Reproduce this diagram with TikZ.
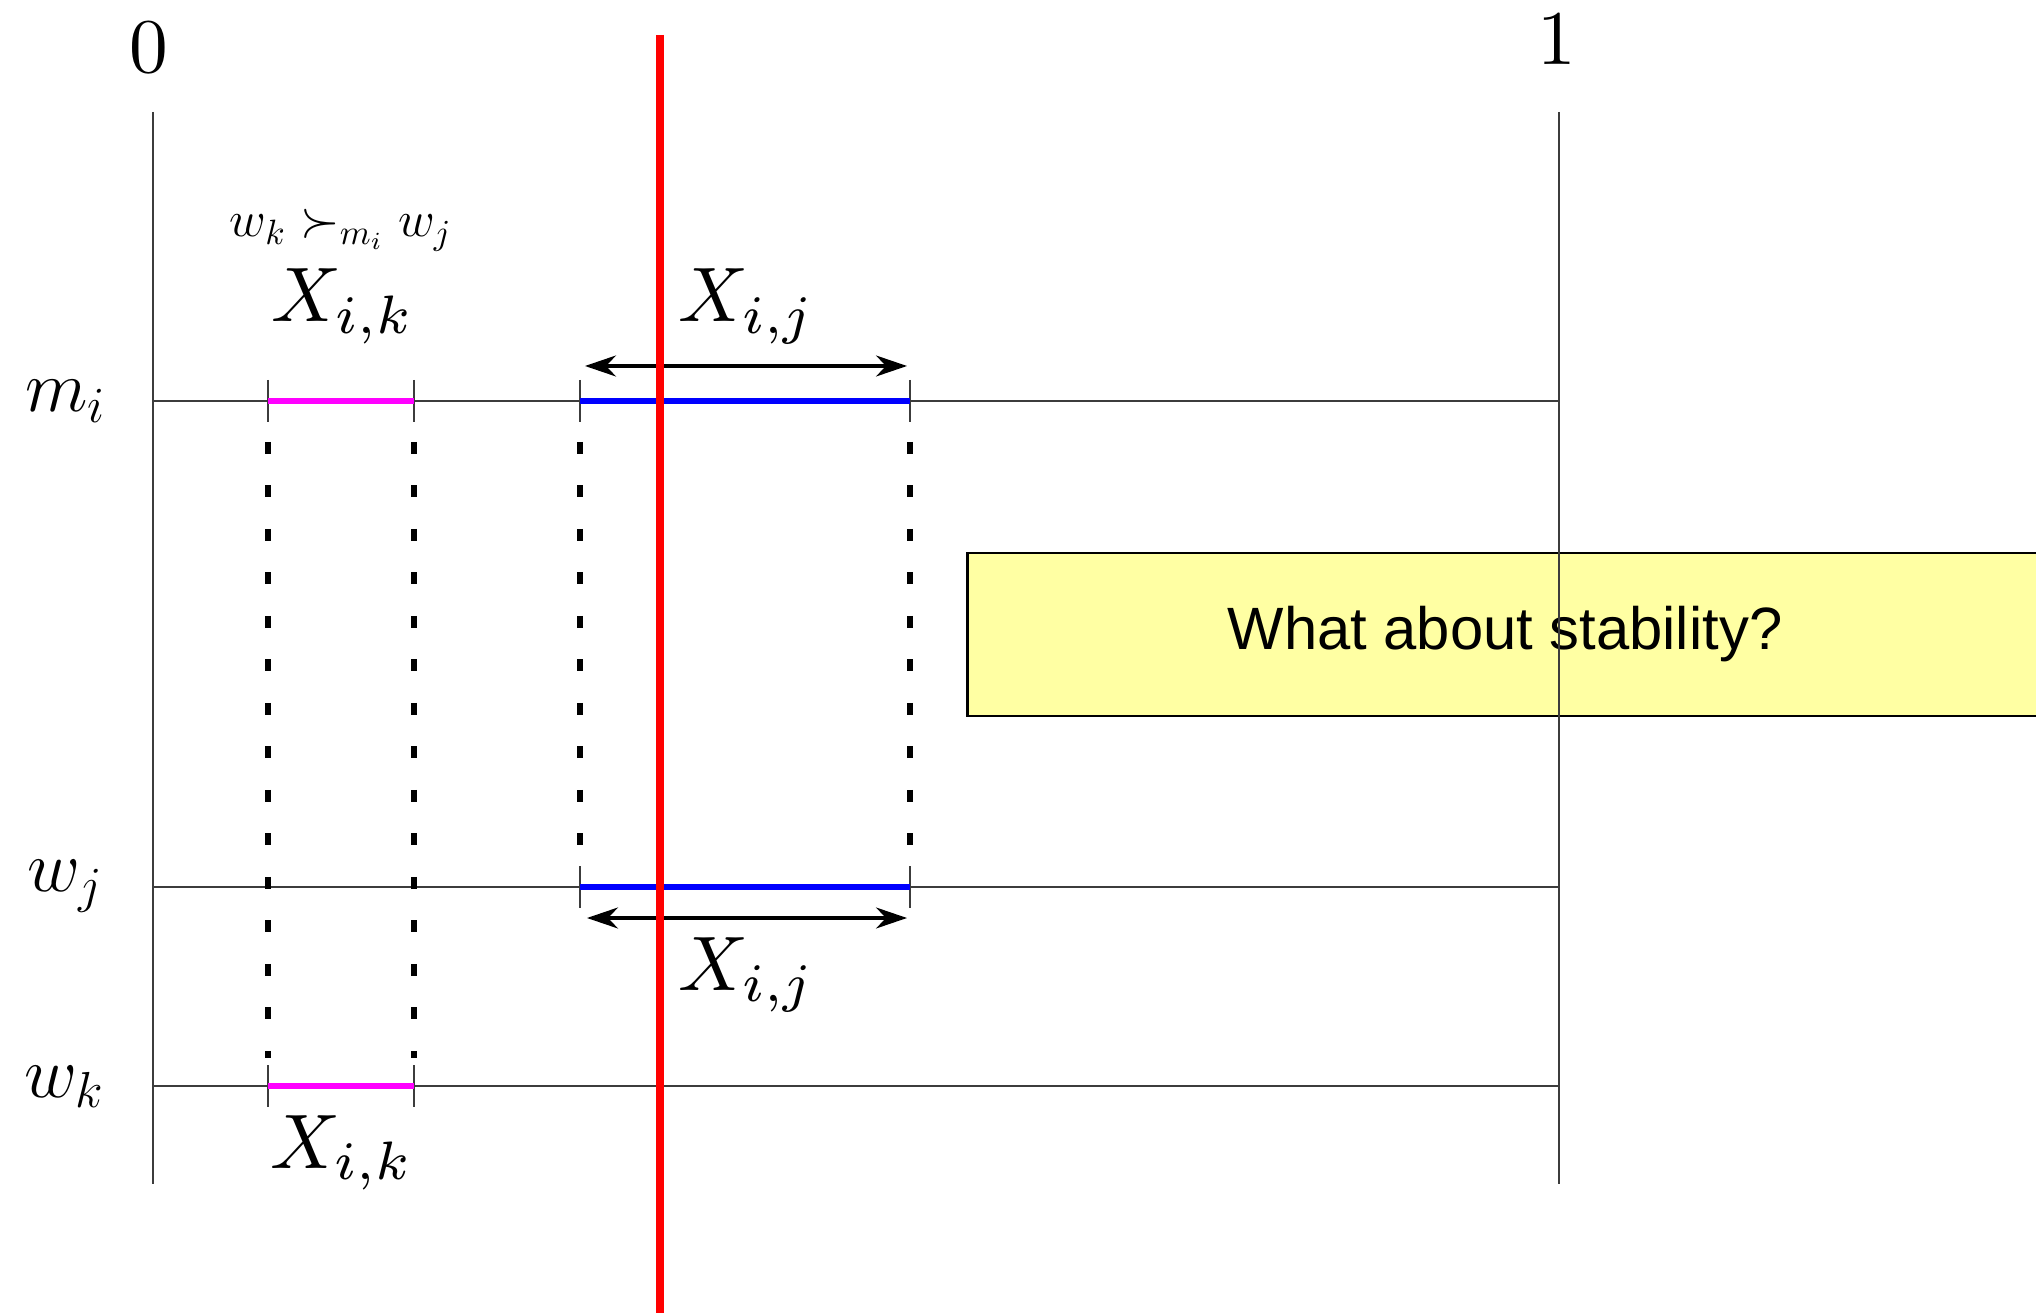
\documentclass[tikz,border=0pt]{standalone}
\usepackage{fontspec}
\newfontfamily\notefont{Liberation Sans}
\definecolor{notebox}{RGB}{255,255,163}
\definecolor{axisgray}{RGB}{60,60,60}
\definecolor{prefpink}{RGB}{255,0,255}
\definecolor{matchblue}{RGB}{0,0,255}
\definecolor{cutred}{RGB}{255,0,0}
\usetikzlibrary{positioning, arrows.meta}

\begin{document}
\begin{tikzpicture}[x=0.1mm, y=-0.1mm,
    axis/.style={draw=axisgray, line width=0.45pt},
    tickmark/.style={draw=axisgray, line width=0.45pt},
    seg/.style={line width=1.9pt},
    guide/.style={line width=1.7pt, dash pattern=on 1.2mm off 3.15mm},
    span/.style={>={Stealth[length=3.1mm,width=2.1mm,inset=1mm]}, <->, line width=0.9pt},
    cut/.style={draw=cutred, line width=2pt},
    val/.style={font=\normalsize, scale=2.2, transform shape, inner sep=0pt, anchor=base},
    side/.style={font=\fontsize{22}{26}\selectfont, inner sep=0pt, anchor=base},
    pref/.style={font=\fontsize{14}{17}\selectfont, inner sep=0pt, anchor=base},
    note/.style={fill=notebox, draw=black, line width=0.85pt,
      minimum width=107.6mm, minimum height=16.3mm,
      font=\notefont\fontsize{17}{20}\selectfont},
  ]
    \useasboundingbox (0,0) rectangle (2036,1313);

    \node[note] (stab) at (1505,634.5) {What about stability?};

    \coordinate (o0) at (153,112);  \coordinate (o1) at (153,1184);
    \coordinate (e0) at (1559,112); \coordinate (e1) at (1559,1184);
    \coordinate (mL) at (153,401);  \coordinate (mR) at (1559,401);
    \coordinate (jL) at (153,887);  \coordinate (jR) at (1559,887);
    \coordinate (kL) at (153,1086); \coordinate (kR) at (1559,1086);
    \draw[axis] (o0) -- (o1);
    \draw[axis] (e0) -- (e1);
    \draw[axis] (mL) -- (mR);
    \draw[axis] (jL) -- (jR);
    \draw[axis] (kL) -- (kR);

    \coordinate (mk1) at (268,401);  \coordinate (mk2) at (414,401);
    \coordinate (mj1) at (580,401);  \coordinate (mj2) at (910,401);
    \coordinate (wj1) at (580,887);  \coordinate (wj2) at (910,887);
    \coordinate (wk1) at (268,1086); \coordinate (wk2) at (414,1086);
    \foreach \p in {mk1,mk2,mj1,mj2,wj1,wj2,wk1,wk2}
      \draw[tickmark] ([yshift=2.1mm]\p) -- ([yshift=-2.1mm]\p);

    \draw[seg, prefpink] (mk1) -- (mk2);
    \draw[seg, prefpink] (wk1) -- (wk2);
    \draw[seg, matchblue] (mj1) -- (mj2);
    \draw[seg, matchblue] (wj1) -- (wj2);

    \draw[guide] ([yshift=-4.1mm]mk1) -- ([yshift=2.8mm]wk1);
    \draw[guide] ([yshift=-4.1mm]mk2) -- ([yshift=2.8mm]wk2);
    \draw[guide] ([yshift=-4.1mm]mj1) -- ([yshift=2.1mm]wj1);
    \draw[guide] ([yshift=-4.1mm]mj2) -- ([yshift=2.1mm]wj2);

    \coordinate (a1) at (585,366); \coordinate (a2) at (907,366);
    \coordinate (b1) at (587,918); \coordinate (b2) at (907,918);
    \draw[span] (a1) -- (a2);
    \draw[span] (b1) -- (b2);

    \coordinate (cut0) at (660,35); \coordinate (cut1) at (660,1313);
    \draw[cut] (cut0) -- (cut1);

    \node[val] (zero) at (149,73) {$0$};
    \node[val] (one) at (1557,65) {$1$};
    \node[side] (mi) at (66,412) {$m_i$};
    \node[side] (wj) at (66,892) {$w_j$};
    \node[side] (wk) at (65,1097) {$w_k$};
    \node[pref] (prefer) at (341,237) {$w_k \succ_{m_i} w_j$};
    \node[val] (xik) at (343,322) {$X_{i,k}$};
    \node[val] (xij) at (747,322) {$X_{i,j}$};
    \node[val] (xijlow) at (747,990) {$X_{i,j}$};
    \node[val] (xiklow) at (342,1168) {$X_{i,k}$};
  \end{tikzpicture}
\end{document}
